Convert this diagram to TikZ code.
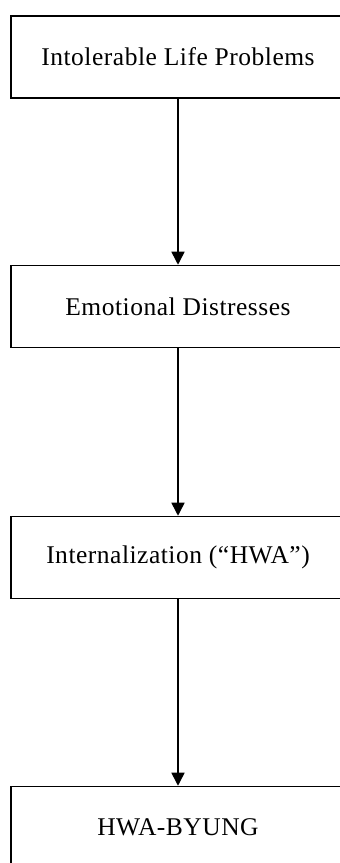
\documentclass[tikz,border=0pt]{standalone}
\usepackage{fontspec}
\setmainfont{Liberation Serif}[LetterSpace=2]
\usetikzlibrary{arrows.meta}
\begin{document}
\begin{tikzpicture}[x=1pt,y=1pt,
  stagebox/.style={draw=black, line width=1.5pt, rectangle, minimum width=334pt, minimum height=82pt, inner sep=0pt, font=\fontsize{25.5}{30}\selectfont},
  flowarrow/.style={draw=black, line width=1.5pt, -{Triangle[width=13pt,length=13pt]}}]
\useasboundingbox (0,0) rectangle (340,863);
\begin{scope}
\clip (0,0) rectangle (340,863);
\node[stagebox] (b1) at (178,806) {Intolerable Life Problems};
\node[stagebox] (b2) at (178,556.5) {Emotional Distresses};
\node[stagebox] (b3) at (178,305.5) {Internalization (“HWA”)};
\node[stagebox] (b4) at (178,35.5) {HWA-BYUNG};
\draw[flowarrow] (b1.south) -- (b2.north);
\draw[flowarrow] (b2.south) -- (b3.north);
\draw[flowarrow] (b3.south) -- (b4.north);
\end{scope}
\end{tikzpicture}
\end{document}
